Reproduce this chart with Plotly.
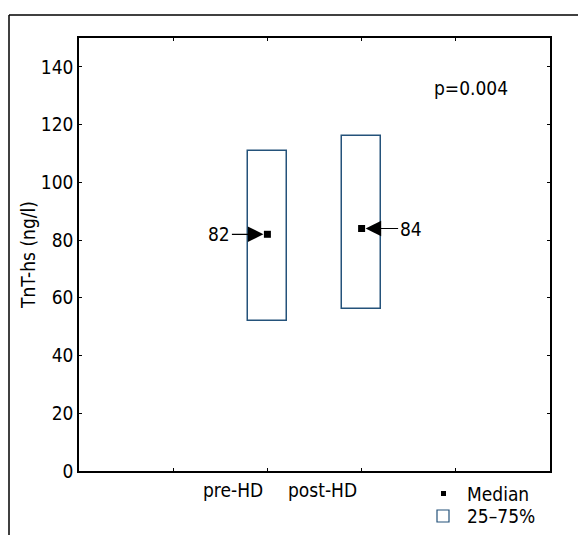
import plotly.graph_objects as go

# ---- data ----
groups = ["pre-HD", "post-HD"]
group_pos = [2, 3]
q1 = [52, 56]
q3 = [111, 116]
median = [82, 84]
median_labels = ["82", "84"]
p_text = "p=0.004"
y_ticks = [0, 20, 40, 60, 80, 100, 120, 140]
legend_labels = ["Median", "25–75%"]

FONT = "DejaVu Sans Condensed, Liberation Sans Narrow, Roboto Condensed, Liberation Sans, sans-serif"
FS = 19
BOX = "#24527a"

W, H = 578, 535
L, R, T, B = 79, 28, 38, 64
pw, ph = W - L - R, H - T - B

def px(xp):
    return (xp - L) / pw

def py(yp):
    return (H - B - yp) / ph

fig = go.Figure()

fig.add_trace(go.Bar(
    x=group_pos, y=[b - a for a, b in zip(q1, q3)], base=q1, width=0.41,
    marker=dict(color="white", line=dict(color=BOX, width=1.5)),
    name=legend_labels[1], showlegend=False,
))
fig.add_trace(go.Scatter(
    x=group_pos, y=median, mode="markers",
    marker=dict(symbol="square", size=7, color="black"),
    name=legend_labels[0], showlegend=False,
))

# median labels with arrows
offsets = [-48, 49]
for xv, yv, lab, off in zip(group_pos, median, median_labels, offsets):
    fig.add_annotation(
        x=xv, y=yv, xref="x", yref="y", text=lab, showarrow=True,
        ax=off, ay=0, arrowhead=2, arrowsize=2.6, arrowwidth=1.2,
        arrowcolor="black", standoff=4,
        font=dict(family=FONT, size=FS, color="black"),
    )

# category labels (offset, as in the reference)
label_x = [233, 322]
for lab, lx in zip(groups, label_x):
    fig.add_annotation(
        x=px(lx), y=py(490), xref="paper", yref="paper", text=lab,
        showarrow=False, xanchor="center", yanchor="middle",
        font=dict(family=FONT, size=FS, color="black"),
    )

fig.add_annotation(
    x=px(471), y=py(88), xref="paper", yref="paper", text=p_text,
    showarrow=False, xanchor="center", yanchor="middle",
    font=dict(family=FONT, size=FS, color="black"),
)

# manual legend
fig.add_shape(type="rect", xref="paper", yref="paper",
              x0=px(441), x1=px(446), y0=py(491), y1=py(496),
              fillcolor="black", line=dict(width=0))
fig.add_shape(type="rect", xref="paper", yref="paper",
              x0=px(437), x1=px(449), y0=py(510), y1=py(522),
              fillcolor="white", line=dict(color=BOX, width=1.2))
for lab, ly in zip(legend_labels, [494, 516]):
    fig.add_annotation(
        x=px(465), y=py(ly), xref="paper", yref="paper", text=lab,
        showarrow=False, xanchor="left", yanchor="middle",
        font=dict(family=FONT, size=FS, color="black"),
    )

# outer frame (top and left edges)
fig.add_shape(type="line", xref="paper", yref="paper",
              x0=px(9), y0=py(15), x1=px(580), y1=py(15),
              line=dict(color="black", width=1.5))
fig.add_shape(type="line", xref="paper", yref="paper",
              x0=px(9), y0=py(15), x1=px(9), y1=py(540),
              line=dict(color="black", width=1.5))

fig.update_layout(
    width=W, height=H, margin=dict(l=L, r=R, t=T, b=B),
    paper_bgcolor="white", plot_bgcolor="white",
    font=dict(family=FONT, size=FS, color="black"),
    bargap=0, showlegend=False,
    xaxis=dict(
        range=[0, 5], tickvals=[1, 2, 3, 4], ticktext=["", "", "", ""],
        ticks="inside", ticklen=3, tickwidth=1, tickcolor="black",
        showline=True, linecolor="black", linewidth=1.5, mirror="ticks",
        showgrid=False, zeroline=False, fixedrange=True,
    ),
    yaxis=dict(
        range=[0, 150], tickvals=y_ticks,
        ticks="inside", ticklen=3, tickwidth=1, tickcolor="black",
        showline=True, linecolor="black", linewidth=1.5, mirror="ticks",
        showgrid=False, zeroline=False,
        title=dict(text="TnT-hs (ng/l)", font=dict(family=FONT, size=FS), standoff=0),
        tickfont=dict(family=FONT, size=FS),
    ),
)

fig.write_html("out.html")
